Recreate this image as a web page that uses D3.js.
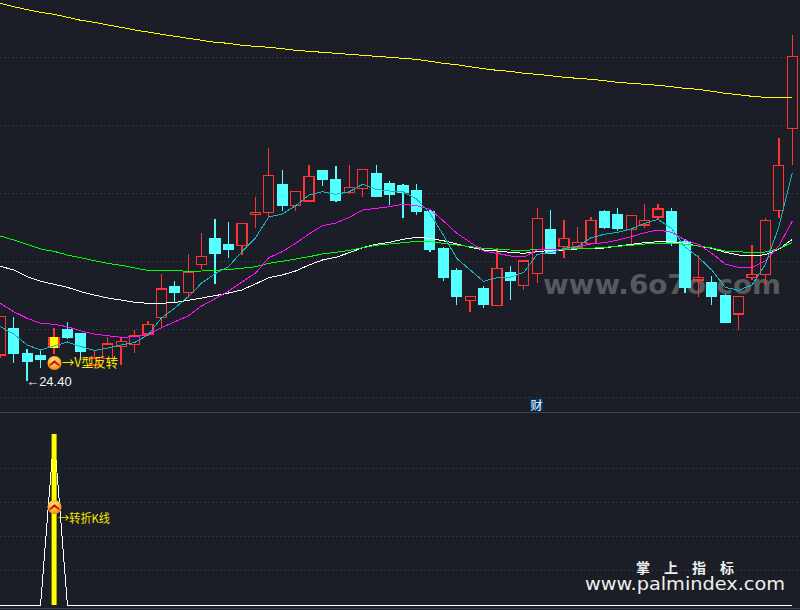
<!DOCTYPE html>
<html><head><meta charset="utf-8">
<script src="https://cdnjs.cloudflare.com/ajax/libs/d3/7.8.5/d3.min.js"></script>
<style>html,body{margin:0;padding:0;background:#1b1e26;overflow:hidden}svg{display:block}</style>
</head><body><svg id="c" width="800" height="610"></svg>
<script>
const open=[27.00,29.60,27.10,26.90,27.67,29.50,29.10,26.00,26.67,27.83,28.07,29.10,30.77,33.80,33.23,36.03,38.60,38.00,37.93,41.03,41.23,44.00,41.93,42.40,45.40,44.50,43.23,43.63,45.10,44.10,43.90,43.40,41.30,37.60,35.40,32.43,33.60,31.93,35.20,33.93,35.13,39.50,37.83,37.80,38.17,41.30,41.00,39.57,40.00,40.80,41.30,38.30,34.50,34.20,32.90,31.10,34.73,35.03,41.43,49.67];
const close=[30.83,27.13,26.33,26.60,28.80,28.80,27.33,26.70,28.10,28.37,28.97,30.07,33.60,33.30,35.30,36.87,37.20,37.60,40.17,41.27,44.97,41.93,43.37,44.87,44.53,42.43,43.77,45.57,42.83,43.03,43.30,41.33,37.60,34.80,32.90,32.87,32.10,35.67,34.50,36.40,40.67,37.20,38.67,38.27,40.47,39.80,39.70,40.97,40.47,41.60,38.30,33.80,34.77,32.90,30.30,32.87,35.07,40.47,45.97,56.87];
const high=[30.83,30.83,27.57,27.50,29.67,30.30,29.10,27.43,28.83,28.80,29.50,30.43,35.10,34.40,37.10,39.20,40.60,40.30,40.17,42.80,47.67,45.50,43.37,46.00,45.50,45.90,46.00,45.57,46.00,44.37,44.10,44.10,41.60,37.83,35.67,32.87,33.90,37.67,35.90,36.40,41.70,41.50,40.50,39.80,40.77,41.50,41.70,40.97,42.10,42.10,41.70,38.60,37.00,34.87,33.10,32.87,38.00,40.70,48.70,59.00];
const low=[26.70,26.20,24.40,25.73,27.10,28.60,26.50,25.90,26.50,26.00,27.23,28.90,29.70,32.23,32.70,35.50,34.13,36.70,37.00,39.73,40.80,41.40,41.43,42.33,43.90,42.33,43.10,42.83,42.80,42.00,40.73,41.00,37.33,34.40,32.00,31.30,31.73,31.90,32.50,33.50,34.20,37.10,36.70,37.70,38.10,39.60,39.40,38.00,39.70,40.50,37.90,33.20,32.80,32.00,30.30,29.50,34.50,34.00,40.70,46.03];
const maTeal=[29.83,29.10,28.00,27.50,27.90,28.30,27.85,27.45,27.70,28.00,28.25,29.00,30.70,31.70,32.83,34.20,35.13,35.83,37.33,38.70,40.80,41.10,41.93,43.00,43.33,43.07,43.33,44.07,43.57,43.40,43.33,42.60,41.20,39.00,36.67,35.50,34.37,34.73,34.77,35.27,37.07,37.23,37.67,37.83,38.73,39.07,39.27,39.60,40.17,40.57,39.67,37.83,36.77,35.50,33.77,33.47,34.00,36.07,39.83,45.17];
const maMagenta=[32.17,31.33,30.67,30.17,30.07,29.83,29.40,29.10,28.93,28.77,28.83,29.00,29.73,30.33,30.90,31.90,32.63,33.40,34.30,35.17,36.73,37.33,38.17,39.10,39.93,40.20,40.77,41.50,41.67,41.83,42.07,41.93,41.57,40.43,39.17,38.27,37.40,37.17,36.90,36.80,37.50,37.57,37.60,37.83,38.10,38.23,38.50,38.83,39.23,39.50,39.27,38.50,38.07,37.17,36.10,35.77,35.73,36.43,37.90,40.40];
const maWhite=[35.87,35.50,34.83,34.37,34.07,33.77,33.33,33.00,32.70,32.50,32.27,32.17,32.17,32.25,32.47,32.70,32.93,33.20,33.50,34.10,34.73,35.00,35.40,36.00,36.50,36.77,37.23,37.73,38.07,38.27,38.57,38.77,38.67,38.43,38.10,37.77,37.50,37.40,37.27,37.17,37.33,37.47,37.50,37.60,37.67,37.70,37.90,38.07,38.23,38.33,38.33,38.17,37.90,37.67,37.27,37.00,36.90,37.03,37.57,38.57];
const maGreen=[38.90,38.50,38.07,37.60,37.37,37.00,36.73,36.43,36.17,35.97,35.70,35.47,35.47,35.45,35.37,35.40,35.47,35.55,35.67,35.83,36.17,36.37,36.60,36.83,37.10,37.27,37.47,37.73,37.97,38.10,38.23,38.37,38.35,38.17,38.00,37.83,37.67,37.57,37.50,37.47,37.53,37.53,37.57,37.63,37.67,37.77,37.87,37.97,38.10,38.17,38.17,38.07,37.90,37.70,37.40,37.33,37.23,37.30,37.63,38.27];
const maYellow=[62.17,61.83,61.53,61.27,61.07,60.77,60.47,60.27,60.00,59.77,59.50,59.30,59.07,58.87,58.67,58.47,58.27,58.17,57.97,57.87,57.77,57.63,57.47,57.37,57.27,57.17,57.07,56.97,56.87,56.77,56.67,56.57,56.37,56.17,56.03,55.83,55.63,55.47,55.37,55.17,55.07,54.93,54.77,54.67,54.57,54.43,54.27,54.17,54.07,53.97,53.83,53.67,53.57,53.37,53.17,53.03,52.87,52.77,52.77,52.77];
const priceTicks=[56.85,50.05,43.25,36.45,29.65,22.85];
const signalTicks=[0.801,0.604,0.405,0.205];
const signalIndex=4;
const signal=open.map((_,i)=>i===signalIndex?1:0);
const lowLabel="←24.40";

const svg=d3.select("#c");
const BG="#1b1e26",RED="#ff3333",CYAN="#54ffff",YEL="#ffff00";
const defs=svg.append("defs");
const grad=defs.append("radialGradient").attr("id","gold").attr("cx","45%").attr("cy","35%").attr("r","70%");
grad.append("stop").attr("offset","0%").attr("stop-color","#ffe98a");
grad.append("stop").attr("offset","55%").attr("stop-color","#ffb52e");
grad.append("stop").attr("offset","100%").attr("stop-color","#ef7d10");

const x=d3.scaleLinear().domain([0,59]).range([0.3,792.3]);
const y=d3.scaleLinear().domain([62.5,1.5]).range([0,610]);
const y2=d3.scaleLinear().domain([0,1]).range([605,434]);

svg.append("rect").attr("width",800).attr("height",610).attr("fill",BG);

// grids
const gridStyle=g=>{g.select(".domain").remove();g.selectAll("text").remove();
  g.selectAll("line").attr("stroke","#3f444d").attr("stroke-width",1).attr("stroke-dasharray","1 3").attr("shape-rendering","crispEdges");};
svg.append("g").call(d3.axisRight(y).tickValues(priceTicks).tickSize(800)).call(gridStyle);
svg.append("g").call(d3.axisRight(y2).tickValues(signalTicks).tickSize(800)).call(gridStyle);

// panel separators
svg.append("line").attr("x1",0).attr("x2",800).attr("y1",412.5).attr("y2",412.5).attr("stroke","#3a4450");
svg.append("line").attr("x1",0).attr("x2",800).attr("y1",608.5).attr("y2",608.5).attr("stroke","#3a4450");

// watermark
svg.append("text").attr("x",543).attr("y",294).attr("textLength",238).attr("lengthAdjust","spacingAndGlyphs")
  .attr("font-family","DejaVu Sans").attr("font-weight","bold").attr("font-size",27).attr("fill","#58595d").text("www.6o7o.com");

// candles
const idx=d3.range(open.length);
const candles=svg.append("g").attr("shape-rendering","crispEdges");
const colorOf=i=>close[i]>=open[i]?RED:CYAN;
const bw=10, bh=i=>Math.abs(y(open[i])-y(close[i]));
candles.selectAll("line").data(idx).join("line")
  .attr("x1",i=>x(i)).attr("x2",i=>x(i)).attr("y1",i=>y(high[i])).attr("y2",i=>y(low[i]))
  .attr("stroke",colorOf).attr("stroke-width",1.3);
candles.selectAll("rect").data(idx).join("rect")
  .attr("x",i=>x(i)-bw/2).attr("width",bw)
  .attr("y",i=>y(Math.max(open[i],close[i]))).attr("height",bh)
  .attr("fill",i=>i===signalIndex?YEL:close[i]>=open[i]?BG:CYAN)
  .attr("stroke",i=>i===signalIndex?RED:colorOf(i)).attr("stroke-width",1.2)
  .attr("stroke-dasharray",i=>i===signalIndex?`0 ${bw} ${bh(i)} ${bw} ${bh(i)}`:null);

// moving averages
const line=d3.line().x((d,i)=>x(i)).y(d=>y(d));
const ma=(arr,c,w)=>svg.append("path").attr("d",line(arr)).attr("fill","none").attr("stroke",c).attr("stroke-width",w).attr("shape-rendering","crispEdges");
ma(maYellow,YEL,1);
ma(maWhite,"#ffffff",1);
ma(maGreen,"#00ff00",1);
ma(maMagenta,"#ff10ff",1);
ma(maTeal,"#14b8c0",1);

// lower panel
const line2=d3.line().x((d,i)=>x(i)).y(d=>y2(d));
svg.append("path").attr("d",line2(signal)).attr("fill","none").attr("stroke","#fff").attr("stroke-width",1).attr("shape-rendering","crispEdges");
svg.append("rect").attr("x",x(signalIndex)-2.4).attr("width",5).attr("y",y2(1)).attr("height",y2(0)-y2(1)).attr("fill",YEL);

// icons
function icon(cx,cy){
  const g=svg.append("g").attr("transform",`translate(${cx},${cy})`);
  g.append("circle").attr("r",7).attr("fill","url(#gold)");
  g.append("path").attr("d","M-5,1.5 L0,-3 L5,1.5 L5,3.5 L0,0 L-5,3.5 Z").attr("fill","#c01418");
}
icon(x(signalIndex)+0.5,363);
icon(x(signalIndex)+0.5,507);

const CJK="'Noto Sans CJK SC','Liberation Sans',sans-serif";
svg.append("text").attr("x",62).attr("y",367).attr("textLength",56).attr("lengthAdjust","spacingAndGlyphs").attr("font-family",CJK).attr("font-size",13).attr("fill","#f6e800").text("→V型反转");
svg.append("text").attr("x",58).attr("y",523).attr("textLength",52).attr("lengthAdjust","spacingAndGlyphs").attr("font-family",CJK).attr("font-size",12).attr("fill","#f6e800").text("→转折K线");
svg.append("text").attr("x",x(2)-1).attr("y",386).attr("font-family","Liberation Sans").attr("font-size",13).attr("fill","#eef4ff").text(lowLabel);

// 财 marker
svg.append("rect").attr("x",530).attr("y",399).attr("width",13).attr("height",12).attr("fill","#003a70");
svg.append("text").attr("x",536.5).attr("y",409.5).attr("text-anchor","middle").attr("font-family",CJK).attr("font-size",12).attr("fill","#fff").text("财");

// brand
svg.append("text").attr("x",636).attr("y",573).attr("font-family",CJK).attr("font-weight","bold").attr("font-size",14).attr("letter-spacing",14).attr("fill","#eeeeee").text("掌上指标");
svg.append("text").attr("x",585).attr("y",590).attr("textLength",200).attr("lengthAdjust","spacingAndGlyphs").attr("font-family","DejaVu Sans").attr("font-size",18).attr("fill","#eeeeee").text("www.palmindex.com");
</script></body></html>
